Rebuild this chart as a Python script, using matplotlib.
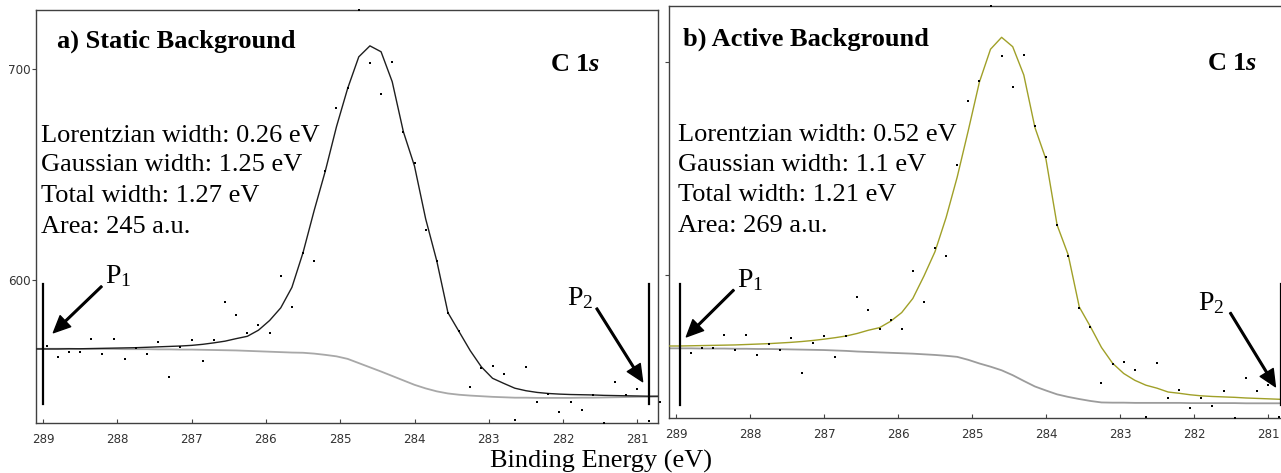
import matplotlib.pyplot as plt
import numpy as np

plt.rcParams['font.family'] = 'Liberation Serif'
plt.rcParams['mathtext.fontset'] = 'custom'
plt.rcParams['mathtext.rm'] = 'Liberation Serif'
plt.rcParams['mathtext.it'] = 'Liberation Serif:italic'
plt.rcParams['mathtext.bf'] = 'Liberation Serif:bold'
plt.rcParams['mathtext.bfit'] = 'Liberation Serif:italic:bold'

# C 1s spectrum (binding energy in eV, counts)
energy = [288.95, 288.80, 288.65, 288.50, 288.35, 288.20, 288.05, 287.90, 287.75, 287.60,
          287.45, 287.30, 287.15, 287.00, 286.85, 286.70, 286.55, 286.40, 286.25, 286.10,
          285.95, 285.80, 285.65, 285.50, 285.35, 285.20, 285.05, 284.90, 284.75, 284.60,
          284.45, 284.30, 284.15, 284.00, 283.85, 283.70, 283.55, 283.40, 283.25, 283.10,
          282.95, 282.80, 282.65, 282.50, 282.35, 282.20, 282.05, 281.90, 281.75, 281.60,
          281.45, 281.30, 281.15, 281.00, 280.85, 280.70]

counts = [568.7, 563.5, 565.9, 565.9, 572.0, 564.9, 572.0, 562.6, 567.8, 564.9,
          570.6, 554.0, 568.2, 571.6, 561.6, 571.6, 589.6, 583.4, 574.9, 578.7,
          574.9, 601.9, 587.2, 612.8, 609.0, 651.7, 681.5, 691.0, 735.0, 702.8,
          688.2, 703.3, 670.1, 655.5, 623.7, 609.0, 584.4, 575.8, 549.3, 558.3,
          559.2, 555.5, 533.6, 558.8, 542.2, 546.0, 537.4, 542.2, 538.4, 545.5,
          528.0, 551.7, 545.5, 548.3, 533.2, 542.2]

# fit with static Shirley background
static_env = [567.3, 567.3, 567.4, 567.4, 567.5, 567.6, 567.7, 567.8, 567.9, 568.1,
              568.3, 568.5, 568.7, 569.0, 569.5, 570.2, 571.0, 572.2, 573.3, 576.2,
              580.8, 586.8, 596.5, 613.0, 633.0, 651.7, 672.7, 690.8, 705.8, 711.0,
              708.2, 694.0, 670.3, 654.0, 629.0, 609.0, 584.5, 575.5, 566.5, 558.8,
              553.4, 551.0, 548.7, 547.5, 546.7, 546.2, 545.9, 545.7, 545.6, 545.5,
              545.3, 545.2, 545.1, 545.0, 544.9, 544.9]
static_bg = [567.4, 567.4, 567.4, 567.3, 567.3, 567.3, 567.3, 567.2, 567.2, 567.2,
             567.1, 567.1, 567.0, 567.0, 566.9, 566.8, 566.7, 566.6, 566.4, 566.2,
             566.0, 565.8, 565.6, 565.5, 565.1, 564.5, 563.8, 562.6, 560.6, 558.6,
             556.6, 554.5, 552.4, 550.3, 548.6, 547.2, 546.2, 545.6, 545.2, 544.9,
             544.6, 544.4, 544.2, 544.2, 544.1, 544.1, 544.1, 544.1, 544.2, 544.2,
             544.3, 544.4, 544.5, 544.6, 544.6, 544.7]

# fit with active background
active_env = [566.7, 566.8, 566.9, 567.0, 567.1, 567.2, 567.4, 567.6, 567.8, 568.1,
              568.4, 568.8, 569.3, 569.9, 570.6, 571.4, 572.6, 574.1, 575.3, 578.3,
              582.4, 589.0, 599.5, 611.0, 627.0, 646.0, 667.9, 690.6, 706.0, 711.6,
              707.2, 693.9, 669.3, 654.3, 623.5, 609.5, 585.0, 575.8, 566.0, 558.6,
              553.8, 550.6, 548.3, 546.9, 545.1, 544.5, 543.8, 543.3, 543.0, 542.8,
              542.6, 542.3, 542.1, 541.9, 541.7, 541.5]
active_bg = [565.6, 565.6, 565.5, 565.5, 565.5, 565.4, 565.4, 565.3, 565.3, 565.2,
             565.1, 565.0, 564.9, 564.8, 564.6, 564.4, 564.1, 563.9, 563.7, 563.5,
             563.3, 563.1, 562.8, 562.5, 562.1, 561.6, 560.2, 558.5, 557.0, 555.3,
             553.0, 550.3, 547.7, 545.8, 544.0, 542.8, 541.8, 540.9, 540.2, 540.1,
             540.1, 540.0, 540.0, 540.0, 540.0, 540.0, 539.9, 539.9, 539.9, 539.9,
             539.9, 539.8, 539.8, 539.8, 539.8, 539.8]

static_info = ["Lorentzian width: 0.26 eV", "Gaussian width: 1.25 eV",
               "Total width: 1.27 eV", "Area: 245 a.u."]
active_info = ["Lorentzian width: 0.52 eV", "Gaussian width: 1.1 eV",
               "Total width: 1.21 eV", "Area: 269 a.u."]

energy_ticks = [289, 288, 287, 286, 285, 284, 283, 282, 281]
count_ticks = [600, 700]

panels = [
    dict(rect=[36 / 1281, 50 / 473, 622 / 1281, 413 / 473],
         xlim=(289.094, 280.723), ylim=(532.2, 728.0),
         title="a) Static Background", title_pos=(0.034, 0.910), c1s_pos=(0.826, 0.853),
         info=static_info, info_x=0.0075, info_y=[0.681, 0.609, 0.536, 0.461],
         env=static_env, bg=static_bg, env_color="#1e1e1e", bg_color="#a8a8a8",
         edge_e=289.10, ylabels=True,
         p1=dict(x=289.00, y=(541.0, 598.0), lab=(288.17, 598.6), tail=(288.21, 597.0), head=(288.86, 575.0)),
         p2=dict(x=280.85, y=(541.0, 598.0), lab=(281.95, 588.2), tail=(281.55, 586.6), head=(280.93, 551.8))),
    dict(rect=[669 / 1281, 55 / 473, 614 / 1281, 412 / 473],
         xlim=(289.095, 280.797), ylim=(532.9, 726.3),
         title="b) Active Background", title_pos=(0.0223, 0.9036), c1s_pos=(0.877, 0.845),
         info=active_info, info_x=0.0152, info_y=[0.673, 0.600, 0.527, 0.452],
         env=active_env, bg=active_bg, env_color="#a0a028", bg_color="#9c9c9c",
         edge_e=289.10, ylabels=False,
         p1=dict(x=288.94, y=(539.0, 595.6), lab=(288.17, 594.5), tail=(288.22, 593.0), head=(288.86, 571.0)),
         p2=dict(x=280.82, y=(539.0, 595.6), lab=(281.94, 583.6), tail=(281.51, 582.3), head=(280.90, 547.6))),
]

fig = plt.figure(figsize=(12.81, 4.73), dpi=100)

for p in panels:
    ax = fig.add_axes(p["rect"])
    ax.set_xlim(*p["xlim"])
    ax.set_ylim(*p["ylim"])

    # fit curves start at the left frame
    fit_e = [p["edge_e"]] + energy
    ax.plot(fit_e, [p["bg"][0]] + p["bg"], color=p["bg_color"], lw=1.3, zorder=2)
    ax.plot(fit_e, [p["env"][0]] + p["env"], color=p["env_color"], lw=1.0, zorder=3)

    # points outside the window are pinned to the frame
    y = np.clip(counts, *p["ylim"])
    ax.plot(energy, y, ls="none", marker="s", ms=1.6, mew=0, color="black", clip_on=False, zorder=4)

    # integration limits
    for key, lab in (("p1", r"P$_1$"), ("p2", r"P$_2$")):
        m = p[key]
        ax.plot([m["x"], m["x"]], m["y"], color="black", lw=1.6, zorder=5)
        ax.annotate("", xy=m["head"], xytext=m["tail"],
                    arrowprops=dict(facecolor="black", edgecolor="black", width=1.2,
                                    headwidth=11, headlength=12, shrink=0))
        ax.text(*m["lab"], lab, fontsize=20, va="baseline", ha="left")

    ax.text(*p["title_pos"], p["title"], transform=ax.transAxes, fontsize=19,
            fontweight="bold", va="baseline")
    ax.text(*p["c1s_pos"], r"$\mathbf{C\ 1}\mathbfit{s}$", transform=ax.transAxes,
            fontsize=19, va="baseline")
    for line, yy in zip(p["info"], p["info_y"]):
        ax.text(p["info_x"], yy, line, transform=ax.transAxes, fontsize=19, va="baseline")

    ax.set_xticks(energy_ticks)
    ax.set_yticks(count_ticks)
    ax.tick_params(axis="x", direction="in", length=3, pad=7, labelsize=8.6,
                   labelcolor="#333333", color="#444444")
    ax.tick_params(axis="y", direction="out", length=3, pad=1, labelsize=8.6,
                   labelcolor="#333333", color="#444444", labelleft=p["ylabels"])
    for t in ax.get_xticklabels() + ax.get_yticklabels():
        t.set_fontfamily("DejaVu Sans")
    for s in ax.spines.values():
        s.set_color("#404040")
        s.set_linewidth(1.0)

fig.text(601.5 / 1281, 5 / 473, "Binding Energy (eV)", fontsize=19, ha="center", va="baseline")

fig.savefig("out.png", dpi=100)
